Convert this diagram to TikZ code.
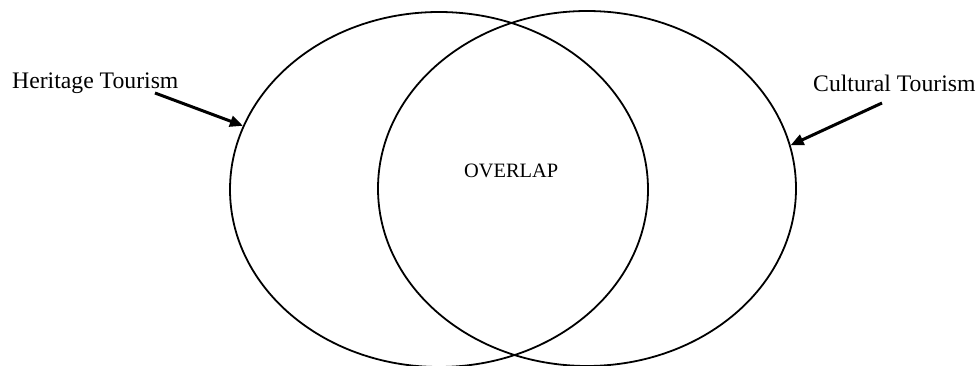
\documentclass[tikz,border=0pt]{standalone}
\usepackage{fontspec}
\setmainfont{Liberation Serif}
\usetikzlibrary{shapes.geometric,arrows.meta}
\begin{document}
\begin{tikzpicture}[x=1pt,y=-1pt,
  circ/.style={ellipse,draw,line width=1.8pt,inner sep=0pt,minimum width=418pt,minimum height=355pt},
  lbl/.style={anchor=base west,inner sep=0pt,font=\fontsize{23.7}{28}\selectfont},
  midlbl/.style={anchor=base west,inner sep=0pt,font=\fontsize{20.4}{24}\selectfont},
  pointer/.style={line width=3pt,-{Triangle[length=13pt,width=11pt]}}]
\useasboundingbox (0,0) rectangle (979,366);
\node[circ] (L) at (439,189.5) {};
\node[circ] (R) at (587,188.5) {};
\node[lbl] (ht) at (12,89) {Heritage Tourism};
\node[lbl] (ct) at (813,92) {Cultural Tourism};
\node[midlbl] (ov) at (464,178) {OVERLAP};
\coordinate (hs) at (155,93);
\coordinate (cs) at (882,103);
\draw[pointer] (hs) -- (L.162.7);
\draw[pointer] (cs) -- (R.12.6);
\end{tikzpicture}
\end{document}
